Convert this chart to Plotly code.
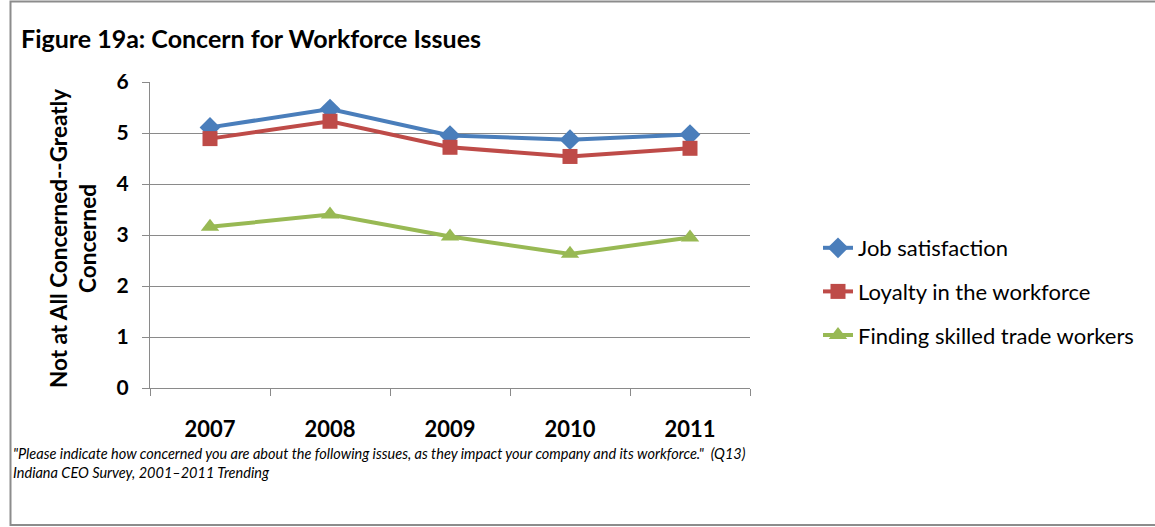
import plotly.graph_objects as go

# Survey years and mean concern scores (0 = not at all, 6 = greatly concerned)
years = ["2007", "2008", "2009", "2010", "2011"]
job_satisfaction = [5.11, 5.47, 4.95, 4.87, 4.97]
loyalty = [4.89, 5.23, 4.72, 4.54, 4.70]
skilled_trade = [3.16, 3.40, 2.97, 2.63, 2.95]

series_names = ["Job satisfaction", "Loyalty in the workforce", "Finding skilled trade workers"]
series_values = [job_satisfaction, loyalty, skilled_trade]
series_colors = ["#4a7ebb", "#be4b48", "#98b954"]
series_symbols = ["diamond", "square", "triangle-up"]
series_sizes = [16, 15, 16]

y_ticks = [0, 1, 2, 3, 4, 5, 6]

FONT = "Lato, 'Open Sans', sans-serif"
GRID = "#8a8a8a"

fig = go.Figure()
for i, (name, vals, col, sym, sz) in enumerate(
        zip(series_names, series_values, series_colors, series_symbols, series_sizes)):
    fig.add_trace(go.Scatter(
        x=years, y=vals, name=name, mode="lines+markers",
        line=dict(color=col, width=4),
        marker=dict(symbol=sym, size=sz, color=col, line=dict(width=0)),
        legendgroup=f"g{i}",
    ))

W, H = 1155, 527
L, R, T, B = 150, 405, 82, 139
pw, ph = W - L - R, H - T - B


def px_x(x):
    return (x - L) / pw


def px_y(y):
    return (H - B - y) / ph


fig.update_layout(
    width=W, height=H,
    margin=dict(l=L, r=R, t=T, b=B),
    paper_bgcolor="white", plot_bgcolor="white",
    font=dict(family=FONT, color="black"),
    showlegend=True,
    legend=dict(
        x=px_x(818), y=px_y(227), xanchor="left", yanchor="top",
        font=dict(size=22, family=FONT),
        tracegroupgap=12, itemwidth=30,
        bgcolor="rgba(0,0,0,0)",
    ),
    xaxis=dict(
        type="category", range=[-0.5, 4.5], showgrid=False,
        showline=True, linecolor=GRID, linewidth=1.3,
        ticks="outside", tickson="boundaries", ticklen=7, tickcolor=GRID, tickwidth=1.3,
        tickfont=dict(size=22, family=FONT, color="black", weight="bold"),
        ticklabelstandoff=21,
    ),
    yaxis=dict(
        range=[0, 6], tickvals=y_ticks, showgrid=True, gridcolor=GRID, gridwidth=1.3,
        showline=True, linecolor=GRID, linewidth=1.3, zeroline=False,
        ticks="outside", ticklen=7, tickcolor=GRID, tickwidth=1.3,
        tickfont=dict(size=21, family=FONT, color="black", weight="bold"),
        ticklabelstandoff=9,
    ),
    annotations=[
        dict(text="<b>Figure 19a: Concern for Workforce Issues</b>", xref="paper", yref="paper",
             x=px_x(19), y=px_y(38), xanchor="left", yanchor="middle", showarrow=False,
             font=dict(size=25, family=FONT)),
        dict(text="<b>Not at All Concerned--Greatly<br>Concerned</b>", xref="paper", yref="paper",
             x=px_x(73), y=px_y(239), xanchor="center", yanchor="middle", showarrow=False,
             textangle=-90, font=dict(size=22.5, family=FONT)),
        dict(text="<i>\"Please indicate how concerned you are about the following issues, as they impact your company and its workforce.\"  (Q13)</i>"
                  "<br><i>Indiana CEO Survey, 2001\u20132011 Trending</i>",
             xref="paper", yref="paper", x=px_x(11), y=px_y(463), xanchor="left", yanchor="middle",
             align="left", showarrow=False, font=dict(size=14.5, family=FONT)),
    ],
    shapes=[
        dict(type="rect", xref="paper", yref="paper",
             x0=px_x(10.5), x1=px_x(1400), y0=px_y(525), y1=px_y(1.5),
             line=dict(color="#8c8c8c", width=2), fillcolor="rgba(0,0,0,0)", layer="below"),
    ],
)

fig.write_html("out.html")
